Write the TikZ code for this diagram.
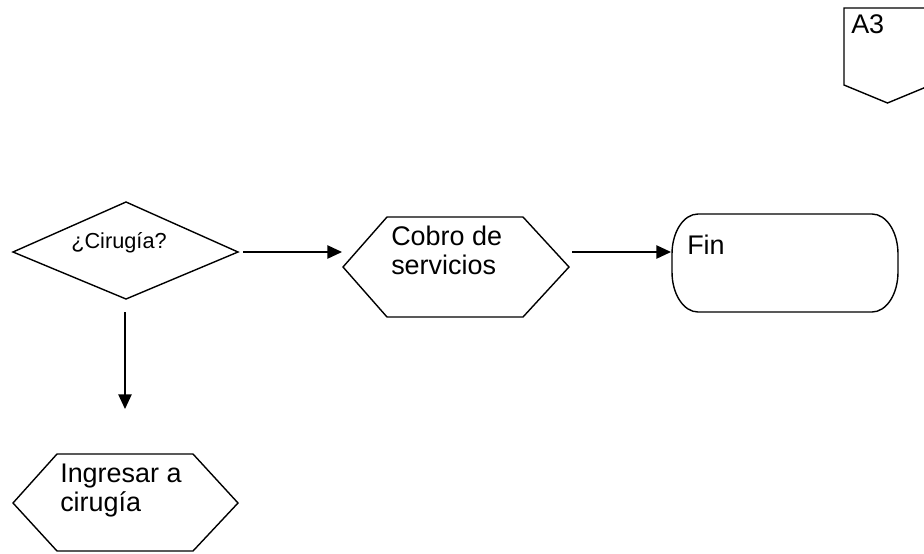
\documentclass[tikz,border=0pt]{standalone}
\usepackage{fontspec}
\setmainfont{Liberation Sans}
\usetikzlibrary{arrows.meta}
\begin{document}
\begin{tikzpicture}[x=0.75pt,y=-0.75pt,
  shapeline/.style={draw=black,line width=1.05pt,line join=miter},
  flow/.style={draw=black,line width=1.1pt,-{Triangle[length=11pt,width=10pt]}},
  bigtxt/.style={anchor=base west,inner sep=0pt,font=\fontsize{20.2}{22}\selectfont},
  smalltxt/.style={anchor=base west,inner sep=0pt,font=\fontsize{16.3}{18}\selectfont}]
\useasboundingbox (0,0) rectangle (924,553);
\fill[white] (0,0) rectangle (924,553);
\begin{scope}
\clip (0,0) rectangle (924,553);
% off-page connector
\draw[shapeline] (844,8) -- (931,8) -- (931,85) -- (887.5,103) -- (844,85) -- cycle;
\end{scope}
\node[bigtxt] (a3) at (851,33) {A3};

% decision
\draw[shapeline] (13,252) -- (126,202) -- (238,252) -- (126,299) -- cycle;
\node[smalltxt] (cir) at (71,248) {¿Cirugía?};

% process: cobro de servicios
\draw[shapeline] (343,267) -- (387,217) -- (523,217) -- (569,267) -- (523,317) -- (387,317) -- cycle;
\node[bigtxt] (cob1) at (391,245) {Cobro de};
\node[bigtxt] (cob2) at (391,274) {servicios};

% terminal: fin (elliptical corners, 26 x 40)
\draw[shapeline] (698,214) -- (872,214)
  .. controls (886.4,214) and (898,231.9) .. (898,254) -- (898,272)
  .. controls (898,294.1) and (886.4,312) .. (872,312) -- (698,312)
  .. controls (683.6,312) and (672,294.1) .. (672,272) -- (672,254)
  .. controls (672,231.9) and (683.6,214) .. (698,214) -- cycle;
\node[bigtxt] (fin) at (687,254) {Fin};

% process: ingresar a cirugia
\draw[shapeline] (13,503) -- (57,454) -- (193,454) -- (238,503) -- (193,551) -- (57,551) -- cycle;
\node[bigtxt] (ing1) at (60,482) {Ingresar a};
\node[bigtxt] (ing2) at (60,511) {cirugía};

% connectors
\coordinate (d-out) at (243,252);
\coordinate (c-in) at (342,252);
\coordinate (c-out) at (572,252);
\coordinate (f-in) at (671,252);
\coordinate (d-down) at (125,312);
\coordinate (i-in) at (125,409);
\draw[flow] (d-out) -- (c-in);
\draw[flow] (c-out) -- (f-in);
\draw[flow] (d-down) -- (i-in);
\end{tikzpicture}
\end{document}
